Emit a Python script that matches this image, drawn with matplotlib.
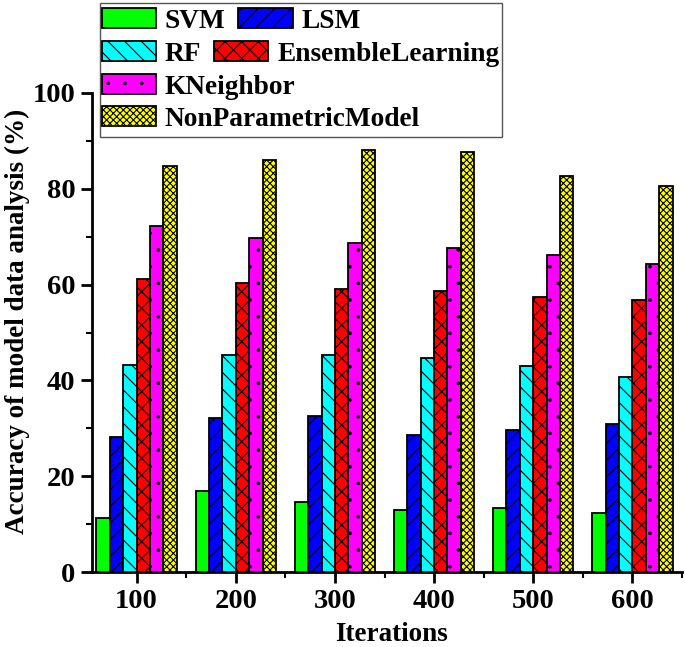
import numpy as np
import matplotlib
matplotlib.use("Agg")
import matplotlib.pyplot as plt
from matplotlib.patches import Patch, Rectangle
from matplotlib.ticker import MultipleLocator

# data
iterations = [100, 200, 300, 400, 500, 600]
models = ["SVM", "LSM", "RF", "EnsembleLearning", "KNeighbor", "NonParametricModel"]
svm = [11.3, 17.0, 14.7, 12.9, 13.4, 12.3]
lsm = [28.2, 32.2, 32.5, 28.5, 29.7, 30.9]
rf = [43.2, 45.2, 45.2, 44.6, 43.0, 40.8]
ensemble = [61.2, 60.4, 59.0, 58.6, 57.5, 56.7]
kneighbor = [72.2, 69.7, 68.6, 67.6, 66.1, 64.2]
nonparam = [84.8, 86.0, 88.2, 87.6, 82.6, 80.6]
series = [svm, lsm, rf, ensemble, kneighbor, nonparam]

colors = ["#00FF00", "#0000FF", "#00FFFF", "#FF0000", "#FF00FF", "#FFFF00"]
hatches = ["", "//", "\\\\", "xx", ".", "xxxxx"]
hatch_lw = [0.8, 0.8, 0.8, 0.8, 0.2, 0.8]

plt.rcParams["font.family"] = ["Liberation Serif", "DejaVu Serif"]
plt.rcParams["font.weight"] = "bold"

W, H = 685, 647
fig = plt.figure(figsize=(W / 100, H / 100), dpi=100)
ax = fig.add_axes([92 / W, 1 - 572 / H, (682 - 92) / W, (572 - 93) / H])

x = np.array(iterations, dtype=float)
bw = 13.5
for i, vals in enumerate(series):
    plt.rcParams["hatch.linewidth"] = hatch_lw[i]
    ax.bar(x + (i - 2.5) * bw, vals, width=bw, color=colors[i], hatch=hatches[i],
           edgecolor="black", linewidth=1.3, zorder=3)

ax.set_xlim(55, 650)
ax.set_ylim(0, 100)
ax.set_xticks(iterations)
ax.xaxis.set_minor_locator(MultipleLocator(50))
ax.yaxis.set_major_locator(MultipleLocator(20))
ax.yaxis.set_minor_locator(MultipleLocator(10))

for s in ["top", "right"]:
    ax.spines[s].set_visible(False)
for s in ["left", "bottom"]:
    ax.spines[s].set_linewidth(2)

ax.tick_params(which="major", direction="out", length=8, width=2, labelsize=20.5, pad=4)
ax.tick_params(which="minor", direction="out", length=4, width=1.5)

ax.set_xlabel("Iterations", fontsize=19.5, fontweight="bold")
ax.set_ylabel("Accuracy of model data analysis (%)", fontsize=19.5, fontweight="bold")
ax.xaxis.set_label_coords(0.507, -0.104)
ax.yaxis.set_label_coords(-0.105, 0.524)

# legend laid out in rows like the original (Origin style)
rows = [[0, 1], [2, 3], [4], [5]]
row_y = [21, 54, 87, 119]
for r, yy in zip(rows, row_y):
    handles = []
    for i in r:
        plt.rcParams["hatch.linewidth"] = hatch_lw[i]
        handles.append(Patch(facecolor=colors[i], hatch=hatches[i], edgecolor="black", linewidth=1.3))
    labels = [models[i] for i in r]
    fig.legend(handles, labels, loc="center left", bbox_to_anchor=(102 / W, 1 - yy / H),
               ncol=len(r), frameon=False, borderpad=0, borderaxespad=0,
               handlelength=1.98, handleheight=0.72, handletextpad=0.32,
               columnspacing=0.47, prop={"weight": "bold", "size": 19.7})

fig.add_artist(Rectangle((100 / W, 1 - 137 / H), 402 / W, 134 / H, transform=fig.transFigure,
                         fill=False, edgecolor="#555555", linewidth=1))

fig.savefig("out.png", dpi=100)
